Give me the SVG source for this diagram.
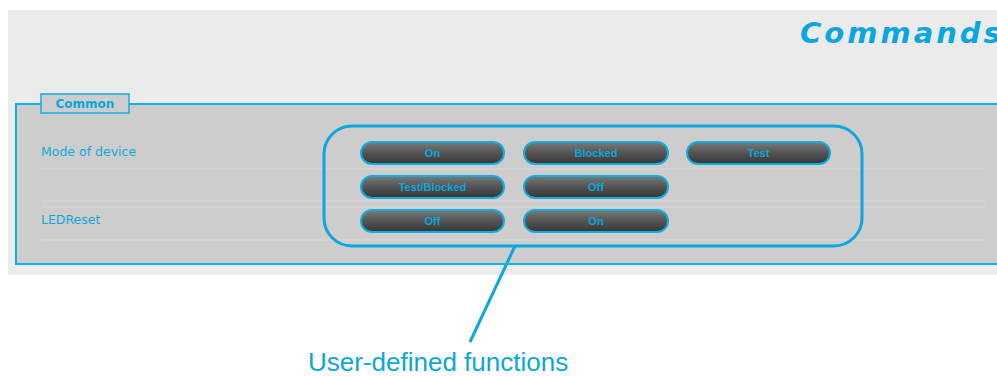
<svg xmlns="http://www.w3.org/2000/svg" width="997" height="377" viewBox="0 0 997 377">
<defs>
<linearGradient id="btn" x1="0" y1="0" x2="0" y2="1">
<stop offset="0" stop-color="#7a7a7a"/>
<stop offset="0.5" stop-color="#545454"/>
<stop offset="1" stop-color="#353535"/>
</linearGradient>
<style>
.btn rect{fill:url(#btn);stroke:#10aee0;stroke-width:2}
.btn text{font-family:"Liberation Sans",Arial,sans-serif;font-size:11px;font-weight:bold;fill:#0aa6dc;text-anchor:middle}
.lbl{font-family:"DejaVu Sans",Verdana,sans-serif;font-size:12.5px;fill:#12a8dc}
.sep{stroke:#dadada;stroke-width:1}
</style>
</defs>
<rect x="0" y="0" width="997" height="377" fill="#ffffff"/>
<rect x="8" y="10" width="989" height="265" fill="#ebebeb"/>
<text x="800" y="43" font-family="'DejaVu Sans',Verdana,sans-serif" font-size="29" font-weight="bold" font-style="italic" letter-spacing="3" fill="#0aa6e0">Commands</text>
<g id="section">
<rect x="16" y="104" width="990" height="160" fill="#cdcdcd" stroke="#10b0e2" stroke-width="2"/>
<line class="sep" x1="41" y1="169" x2="985" y2="169"/>
<line class="sep" x1="41" y1="201" x2="985" y2="201"/>
<line class="sep" x1="41" y1="207" x2="985" y2="207"/>
<line class="sep" x1="41" y1="240" x2="985" y2="240"/>
</g>
<g id="legend">
<rect x="41" y="94" width="88" height="19" fill="#cdcdcd" stroke="#10b0e2" stroke-width="1.5"/>
<text x="85" y="108" text-anchor="middle" font-family="'DejaVu Sans',Verdana,sans-serif" font-size="12" font-weight="bold" fill="#0aa6dc">Common</text>
</g>
<g id="label-mode"><text class="lbl" x="41" y="156">Mode of device</text></g>
<g id="label-led"><text class="lbl" x="41" y="224">LEDReset</text></g>
<g id="group-box">
<rect x="324" y="126" width="538" height="120" rx="28" ry="28" fill="none" stroke="#0aa8de" stroke-width="3"/>
</g>
<g id="btn-on" class="btn"><rect x="361" y="142" width="143" height="22" rx="11"/><text x="432.5" y="157">On</text></g>
<g id="btn-blocked" class="btn"><rect x="524" y="142" width="144" height="22" rx="11"/><text x="596" y="157">Blocked</text></g>
<g id="btn-test" class="btn"><rect x="687" y="142" width="143" height="22" rx="11"/><text x="758.5" y="157">Test</text></g>
<g id="btn-testblocked" class="btn"><rect x="361" y="176" width="143" height="22" rx="11"/><text x="432.5" y="191">Test/Blocked</text></g>
<g id="btn-off1" class="btn"><rect x="524" y="176" width="144" height="22" rx="11"/><text x="596" y="191">Off</text></g>
<g id="btn-off2" class="btn"><rect x="361" y="210" width="143" height="22" rx="11"/><text x="432.5" y="225">Off</text></g>
<g id="btn-on2" class="btn"><rect x="524" y="210" width="144" height="22" rx="11"/><text x="596" y="225">On</text></g>
<g id="connectors">
<line x1="515" y1="246" x2="470" y2="342" stroke="#0aa8de" stroke-width="3"/>
</g>
<g id="callout">
<text x="308" y="371" font-family="'Liberation Sans',Arial,sans-serif" font-size="26" fill="#0aa6dc">User-defined functions</text>
</g>
</svg>
